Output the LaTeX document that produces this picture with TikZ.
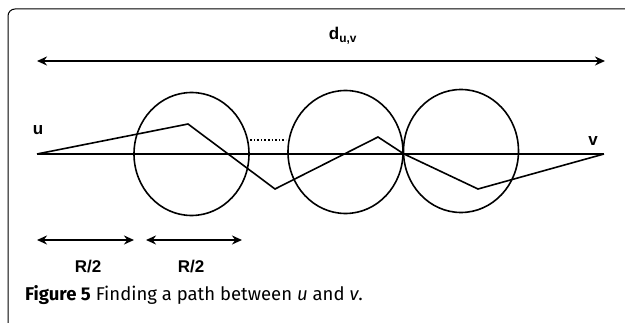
\documentclass[tikz,border=0pt]{standalone}
\usepackage{fontspec}
\setmainfont{Liberation Sans}
\newfontfamily\capfont{Fira Sans}
\usetikzlibrary{arrows.meta, positioning, calc, shapes.geometric}

\begin{document}
\begin{tikzpicture}[x=1pt, y=-1pt,
    span/.style={{Stealth[length=10pt,width=9pt]}-{Stealth[length=10pt,width=9pt]}, line width=2pt},
    zone/.style={ellipse, draw, line width=1.6pt, minimum width=115pt, minimum height=123pt, inner sep=0pt},
    lbl/.style={font=\bfseries\fontsize{17}{19}\selectfont, inner sep=0pt}]
    \useasboundingbox (0,0) rectangle (625,323);
    \draw[line width=1pt, rounded corners=7pt] (8,323) -- (8,9) -- (625,9);
    \coordinate (u) at (37,154);
    \coordinate (v) at (604,154);
    \node[zone] (c1) at (191.5,154) {};
    \node[zone] (c2) at (345.5,152) {};
    \node[zone] (c3) at (461,151) {};
    \node[lbl] (ulbl) at (38,130) {u};
    \node[lbl] (vlbl) at (593,141) {v};
    \node[lbl] (dlbl) at (343,36) {d\textsubscript{u,v}};
    \coordinate (dl) at (37,61);
    \coordinate (dr) at (605,61);
    \draw[span] (dl) -- (dr);
    \draw[line width=1.7pt] (u) -- (v);
    \coordinate (p1) at (188,124);
    \coordinate (p2) at (275,189);
    \coordinate (p3) at (378,137);
    \coordinate (p4) at (404,154);
    \coordinate (p5) at (478,189);
    \draw[line width=1.6pt, line join=miter] (u) -- (p1) -- (p2) -- (p3) -- (p4) -- (p5) -- (v);
    \coordinate (g1) at (250,140);
    \coordinate (g2) at (286,140);
    \draw[line width=1.6pt, dotted] (g1) -- (g2);
    \coordinate (a1) at (37,240);
    \coordinate (a2) at (134,240);
    \coordinate (b1) at (146,240);
    \coordinate (b2) at (242,240);
    \draw[span] (a1) -- (a2);
    \draw[span] (b1) -- (b2);
    \node[lbl] (r1) at (88,267) {R/2};
    \node[lbl] (r2) at (191,267) {R/2};
    \node[anchor=west, inner sep=0pt, font=\capfont\fontsize{18.5}{21}\selectfont] (cap) at (25,295)
        {\textbf{Figure 5} Finding a path between \textit{u} and \textit{v}.};
\end{tikzpicture}
\end{document}
